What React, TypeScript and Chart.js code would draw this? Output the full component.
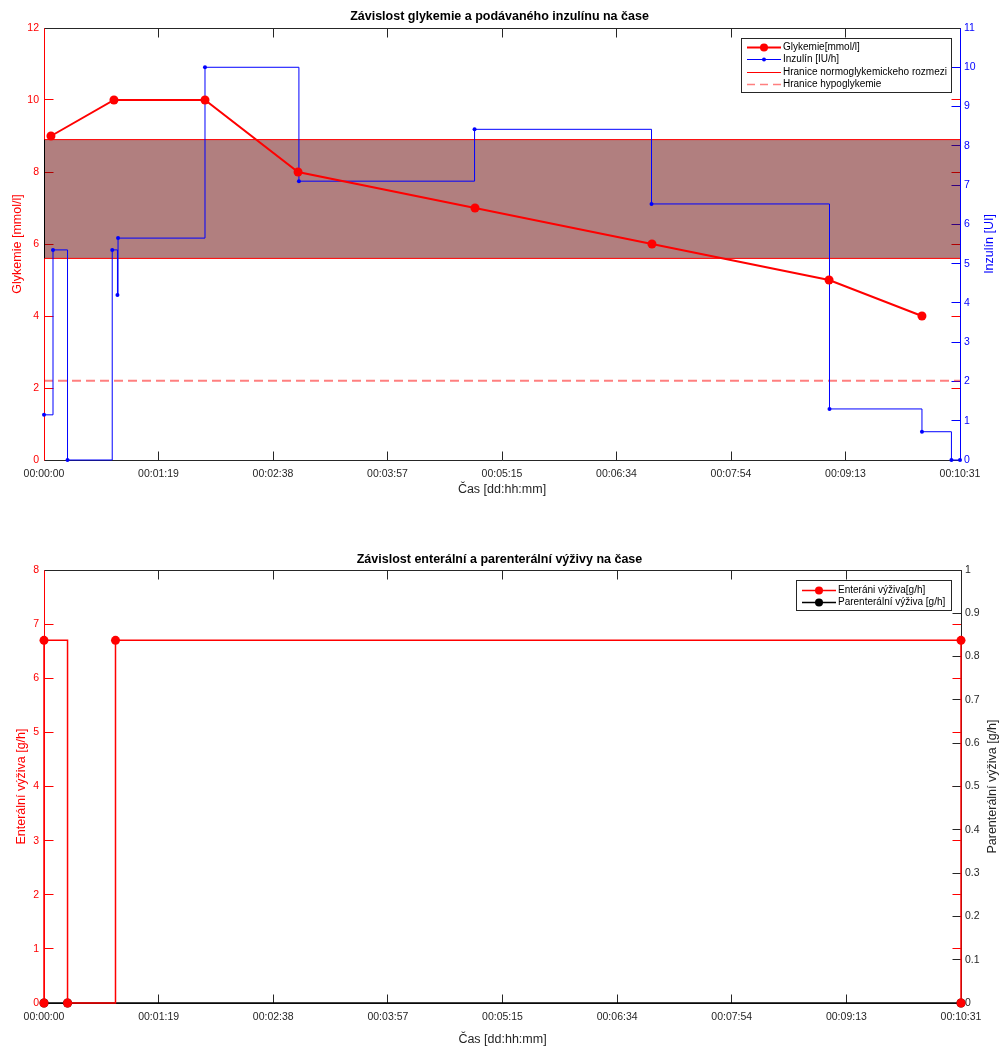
import React, { useEffect, useRef } from 'react';
import { Chart, registerables } from 'chart.js';

Chart.register(...registerables);

const FONT = "'Liberation Sans', Arial, Helvetica, sans-serif";
const AXIS_GRAY = '#262626';
const RED = '#ff0000';
const BLUE = '#0000ff';

// ---- shared time axis ----
const X_TICK_LABELS = ['00:00:00', '00:01:19', '00:02:38', '00:03:57', '00:05:15', '00:06:34', '00:07:54', '00:09:13', '00:10:31'];
const X_MAX = 631; // seconds

// ---- top chart: glycemia & insulin ----
const GLYC_TIMES = [4.8, 48.2, 110.9, 175.0, 296.9, 418.8, 540.8, 604.8];
const GLYC_VALUES = [9, 10, 10, 8, 7, 6, 5, 4];
const INS_TIMES = [0, 6.2, 16.2, 47.0, 50.6, 51.0, 110.9, 175.6, 296.6, 418.5, 541.1, 604.8, 625.1, 631];
const INS_VALUES = [1.15, 5.35, 0, 5.35, 4.2, 5.65, 10.0, 7.1, 8.42, 6.52, 1.3, 0.72, 0, 0];
const NORMO_LOW = 5.6;
const NORMO_HIGH = 8.9;
const HYPO_LIMIT = 2.2;
const GLYC_AXIS = { min: 0, max: 12, step: 2 };
const INS_AXIS = { min: 0, max: 11, step: 1 };

// ---- bottom chart: enteral & parenteral nutrition ----
const ENT_TIMES = [0, 0, 16.2, 49.2, 631, 631];
const ENT_VALUES = [0, 6.7, 0, 6.7, 6.7, 0];
const PAR_TIMES = [0, 16.2, 631];
const PAR_VALUES = [0, 0, 0];
const ENT_AXIS = { min: 0, max: 8, step: 1 };
const PAR_AXIS = { min: 0, max: 1, step: 0.1 };

const pts = (xs: number[], ys: number[]) => xs.map((x, i) => ({ x, y: ys[i] }));
const hline = (v: number) => [{ x: 0, y: v }, { x: X_MAX, y: v }];

type LegendItem = { text: string; color: string; width: number; dash?: number[]; marker?: number };

type DecorCfg = {
  leftColor: string;
  rightColor: string;
  rightTitle: string;
  rightTitleColor: string;
  rightTitleX: number;
  band?: { low: number; high: number };
  legend: { items: LegendItem[]; rightOffset: number; topOffset: number; boxW: number; boxH: number; firstRow: number; rowH: number };
};

const TICK_LEN = 9;

function decorPlugin(cfg: DecorCfg) {
  return {
    id: 'decor',
    beforeDatasetsDraw(chart: any) {
      const { ctx, chartArea: a, scales } = chart;
      const crisp = (v: number) => Math.floor(v) + 0.5;
      const L = crisp(a.left), R = crisp(a.right), T = crisp(a.top), B = crisp(a.bottom);
      ctx.save();
      ctx.lineWidth = 1;
      ctx.strokeStyle = AXIS_GRAY;
      ctx.beginPath();
      scales.x.ticks.forEach((t: any) => {
        const px = crisp(scales.x.getPixelForValue(t.value));
        ctx.moveTo(px, B); ctx.lineTo(px, B - TICK_LEN);
        ctx.moveTo(px, T); ctx.lineTo(px, T + TICK_LEN);
      });
      ctx.stroke();
      ctx.strokeStyle = cfg.leftColor;
      ctx.beginPath();
      scales.y.ticks.forEach((t: any) => {
        const py = crisp(scales.y.getPixelForValue(t.value));
        ctx.moveTo(L, py); ctx.lineTo(L + TICK_LEN, py);
        ctx.moveTo(R, py); ctx.lineTo(R - TICK_LEN, py);
      });
      ctx.stroke();
      ctx.strokeStyle = cfg.rightColor;
      ctx.beginPath();
      scales.y1.ticks.forEach((t: any) => {
        const py = crisp(scales.y1.getPixelForValue(t.value));
        ctx.moveTo(R, py); ctx.lineTo(R - TICK_LEN, py);
      });
      ctx.stroke();
      ctx.strokeStyle = AXIS_GRAY;
      ctx.beginPath();
      ctx.moveTo(L, T); ctx.lineTo(R, T);
      ctx.moveTo(L, B); ctx.lineTo(R, B);
      ctx.stroke();
      ctx.strokeStyle = cfg.leftColor;
      ctx.beginPath(); ctx.moveTo(L, T); ctx.lineTo(L, B); ctx.stroke();
      ctx.strokeStyle = cfg.rightColor;
      ctx.beginPath(); ctx.moveTo(R, T); ctx.lineTo(R, B); ctx.stroke();
      ctx.restore();
    },
    afterDatasetsDraw(chart: any) {
      const { ctx, chartArea: a, scales } = chart;
      ctx.save();
      if (cfg.band) {
        // dark edge of the normoglycemic patch on the left axis
        const y1 = scales.y.getPixelForValue(cfg.band.high);
        const y2 = scales.y.getPixelForValue(cfg.band.low);
        ctx.strokeStyle = '#000000';
        ctx.lineWidth = 1;
        ctx.beginPath(); ctx.moveTo(Math.floor(a.left) + 0.5, y1); ctx.lineTo(Math.floor(a.left) + 0.5, y2); ctx.stroke();
      }
      const lg = cfg.legend;
      const bx = Math.round(a.right - lg.rightOffset - lg.boxW);
      const by = Math.round(a.top + lg.topOffset);
      ctx.fillStyle = '#ffffff';
      ctx.fillRect(bx, by, lg.boxW, lg.boxH);
      ctx.strokeStyle = AXIS_GRAY;
      ctx.lineWidth = 1;
      ctx.strokeRect(bx + 0.5, by + 0.5, lg.boxW, lg.boxH);
      lg.items.forEach((it, i) => {
        const y = Math.round(by + lg.firstRow + i * lg.rowH) + 0.5;
        ctx.strokeStyle = it.color;
        ctx.lineWidth = it.width;
        ctx.setLineDash(it.dash || []);
        ctx.beginPath(); ctx.moveTo(bx + 6, y); ctx.lineTo(bx + 40, y); ctx.stroke();
        ctx.setLineDash([]);
        if (it.marker) {
          ctx.fillStyle = it.color;
          ctx.beginPath(); ctx.arc(bx + 23, y, it.marker, 0, Math.PI * 2); ctx.fill();
        }
        ctx.fillStyle = '#000000';
        ctx.font = `10px ${FONT}`;
        ctx.textBaseline = 'middle';
        ctx.textAlign = 'left';
        ctx.fillText(it.text, bx + 42, y);
      });
      ctx.translate(cfg.rightTitleX, (a.top + a.bottom) / 2);
      ctx.rotate(-Math.PI / 2);
      ctx.fillStyle = cfg.rightTitleColor;
      ctx.font = `12.5px ${FONT}`;
      ctx.textAlign = 'center';
      ctx.textBaseline = 'middle';
      ctx.fillText(cfg.rightTitle, 0, 0);
      ctx.restore();
    },
  };
}

function xScale(height: number, titleBottomPad: number) {
  return {
    type: 'linear',
    min: 0,
    max: X_MAX,
    afterBuildTicks: (s: any) => {
      s.ticks = X_TICK_LABELS.map((_, i) => ({ value: (i * X_MAX) / (X_TICK_LABELS.length - 1) }));
    },
    afterFit: (s: any) => { s.height = height; },
    grid: { display: false, drawTicks: false },
    border: { display: false },
    ticks: {
      autoSkip: false, maxRotation: 0, minRotation: 0, padding: 8, color: AXIS_GRAY,
      font: { family: FONT, size: 10.5 },
      callback: (_v: any, i: number) => X_TICK_LABELS[i],
    },
    title: { display: true, text: 'Čas [dd:hh:mm]', color: AXIS_GRAY, font: { family: FONT, size: 12.5 }, padding: { top: 0, bottom: titleBottomPad } },
  };
}

function yScale(pos: 'left' | 'right', ax: { min: number; max: number; step: number }, color: string, width: number, title?: string, titlePad?: number) {
  return {
    type: 'linear',
    position: pos,
    min: ax.min,
    max: ax.max,
    afterFit: (s: any) => { s.width = width; },
    grid: { display: false, drawTicks: false },
    border: { display: false },
    ticks: {
      stepSize: ax.step, padding: pos === 'left' ? 5 : 4, color,
      font: { family: FONT, size: 10.5 },
      callback: (v: any) => String(Math.round(Number(v) * 10) / 10),
    },
    title: title
      ? { display: true, text: title, color, font: { family: FONT, size: 12.5 }, padding: { top: titlePad, bottom: 0 } }
      : { display: false },
  };
}

function topConfig(): any {
  return {
    type: 'line',
    data: {
      datasets: [
        {
          label: 'Glykemie[mmol/l]', data: pts(GLYC_TIMES, GLYC_VALUES), yAxisID: 'y',
          borderColor: RED, borderWidth: 2, pointRadius: 4.5, pointBackgroundColor: RED, pointBorderColor: RED, pointBorderWidth: 0,
          clip: false, order: 0,
        },
        {
          label: 'Inzulín [IU/h]', data: pts(INS_TIMES, INS_VALUES), yAxisID: 'y1', stepped: true,
          borderColor: BLUE, borderWidth: 1, pointRadius: 2, pointBackgroundColor: BLUE, pointBorderColor: BLUE, pointBorderWidth: 0,
          clip: false, order: 1,
        },
        {
          label: 'Hranice normoglykemickeho rozmezi', data: hline(NORMO_HIGH), yAxisID: 'y',
          borderColor: RED, borderWidth: 1, pointRadius: 0, fill: '+1', backgroundColor: 'rgba(100,0,0,0.5)', order: 3,
        },
        {
          label: 'normo-low', data: hline(NORMO_LOW), yAxisID: 'y',
          borderColor: RED, borderWidth: 1, pointRadius: 0, fill: false, order: 2,
        },
        {
          label: 'Hranice hypoglykemie', data: hline(HYPO_LIMIT), yAxisID: 'y',
          borderColor: 'rgba(255,0,0,0.5)', borderWidth: 2, borderDash: [9, 5], pointRadius: 0, fill: false, order: 4,
        },
      ],
    },
    options: {
      responsive: false, animation: false, events: [],
      layout: { padding: 0 },
      plugins: {
        legend: { display: false }, tooltip: { enabled: false },
        title: {
          display: true, text: 'Závislost glykemie a podávaného inzulínu na čase', color: '#000000',
          font: { family: FONT, size: 12.5, weight: 'bold' }, padding: { top: 9.5, bottom: 3.5 },
        },
      },
      scales: {
        x: xScale(60, 22.5),
        y: yScale('left', GLYC_AXIS, RED, 44, 'Glykemie [mmol/l]', 10.5),
        y1: yScale('right', INS_AXIS, BLUE, 39),
      },
    },
    plugins: [
      decorPlugin({
        leftColor: RED, rightColor: BLUE, rightTitle: 'Inzulín [UI]', rightTitleColor: BLUE, rightTitleX: 990,
        band: { low: NORMO_LOW, high: NORMO_HIGH },
        legend: {
          rightOffset: 9, topOffset: 10, boxW: 210, boxH: 54, firstRow: 8.5, rowH: 12.5,
          items: [
            { text: 'Glykemie[mmol/l]', color: RED, width: 2, marker: 4 },
            { text: 'Inzulín [IU/h]', color: BLUE, width: 1, marker: 2 },
            { text: 'Hranice normoglykemickeho rozmezi', color: RED, width: 1 },
            { text: 'Hranice hypoglykemie', color: 'rgba(255,0,0,0.5)', width: 1.5, dash: [8, 5] },
          ],
        },
      }),
    ],
  };
}

function bottomConfig(): any {
  return {
    type: 'line',
    data: {
      datasets: [
        {
          label: 'Enteráni výživa[g/h]', data: pts(ENT_TIMES, ENT_VALUES), yAxisID: 'y', stepped: true,
          borderColor: RED, borderWidth: 1.5, pointRadius: 4.5, pointBackgroundColor: RED, pointBorderColor: RED, pointBorderWidth: 0,
          clip: false, order: 0,
        },
        {
          label: 'Parenterální výživa [g/h]', data: pts(PAR_TIMES, PAR_VALUES), yAxisID: 'y1', stepped: true,
          borderColor: '#000000', borderWidth: 1.5, pointRadius: 4.5, pointBackgroundColor: '#000000', pointBorderColor: '#000000', pointBorderWidth: 0,
          clip: false, order: 1,
        },
      ],
    },
    options: {
      responsive: false, animation: false, events: [],
      layout: { padding: 0 },
      plugins: {
        legend: { display: false }, tooltip: { enabled: false },
        title: {
          display: true, text: 'Závislost enterální a parenterální výživy na čase', color: '#000000',
          font: { family: FONT, size: 12.5, weight: 'bold' }, padding: { top: 32.5, bottom: 2.5 },
        },
      },
      scales: {
        x: xScale(45, 0.5),
        y: yScale('left', ENT_AXIS, RED, 44, 'Enterální výživa [g/h]', 14.5),
        y1: yScale('right', PAR_AXIS, AXIS_GRAY, 38),
      },
    },
    plugins: [
      decorPlugin({
        leftColor: RED, rightColor: AXIS_GRAY, rightTitle: 'Parenterální výživa [g/h]', rightTitleColor: AXIS_GRAY, rightTitleX: 993,
        legend: {
          rightOffset: 10, topOffset: 10, boxW: 155, boxH: 30, firstRow: 10, rowH: 12,
          items: [
            { text: 'Enteráni výživa[g/h]', color: RED, width: 1.5, marker: 4 },
            { text: 'Parenterální výživa [g/h]', color: '#000000', width: 1.5, marker: 4 },
          ],
        },
      }),
    ],
  };
}

function ChartCanvas({ make, width, height }: { make: () => any; width: number; height: number }) {
  const ref = useRef<HTMLCanvasElement>(null);
  useEffect(() => {
    const chart = new Chart(ref.current as HTMLCanvasElement, make());
    return () => chart.destroy();
  }, []);
  return <canvas ref={ref} width={width} height={height} style={{ display: 'block', width, height }} />;
}

export default function App() {
  return (
    <div style={{ position: 'absolute', left: 0, top: 0, width: 999, height: 1048, background: '#ffffff' }}>
      <ChartCanvas make={topConfig} width={999} height={520} />
      <ChartCanvas make={bottomConfig} width={999} height={528} />
    </div>
  );
}
